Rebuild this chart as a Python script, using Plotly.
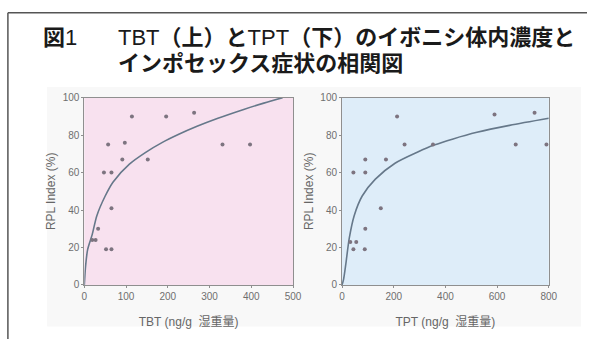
import plotly.graph_objects as go

# TBT panel: body concentration (ng/g wet weight) vs RPL index (%)
tbt_conc = [19, 27, 33, 47, 65, 57, 97, 65, 52, 65, 91, 114, 152, 196, 263, 331, 397]
tbt_rpl = [24, 24, 30, 60, 60, 75, 76, 41, 19, 19, 67, 90, 67, 90, 92, 75, 75]
# fitted curve, read along its path
tbt_fit_x = [0, 3, 8, 19, 30, 50, 69, 108, 147, 186, 225, 270, 320, 380, 430, 475]
tbt_fit_y = [0, 10, 19, 27, 37, 47.5, 55, 64.5, 70.8, 76, 80.3, 84.7, 89, 93.6, 97.1, 100]

# TPT panel
tpt_conc = [44, 32, 55, 44, 88, 90, 90, 90, 150, 170, 213, 242, 352, 590, 672, 745, 791]
tpt_rpl = [19, 23, 23, 60, 19, 30, 67, 60, 41, 67, 90, 75, 75, 91, 75, 92, 75]
tpt_fit_x = [0, 6, 15, 28, 47, 78, 129, 205, 293, 356, 430, 522, 648, 800]
tpt_fit_y = [0, 3, 11.5, 25, 37, 47.5, 56.5, 65, 71, 74.7, 78, 81.5, 85.2, 89]

tbt_ticks = [0, 100, 200, 300, 400, 500]
tpt_ticks = [0, 200, 400, 600, 800]
rpl_ticks = [0, 20, 40, 60, 80, 100]

W, H = 596, 345
FONT = "Liberation Sans, Arial, Noto Sans CJK JP, sans-serif"
CJK = "Liberation Sans, Noto Sans CJK JP, sans-serif"

def px_x(v):
    return v / W

def px_y(v):
    return 1 - v / H

fig = go.Figure()

marker = dict(symbol="circle", size=4, color="#7d7480")
curve = dict(color="#66788a", width=1.6, shape="spline", smoothing=0.8)

fig.add_trace(go.Scatter(x=tbt_fit_x, y=tbt_fit_y, mode="lines", line=curve,
                         xaxis="x", yaxis="y", hoverinfo="skip"))
fig.add_trace(go.Scatter(x=tbt_conc, y=tbt_rpl, mode="markers", marker=marker,
                         xaxis="x", yaxis="y"))
fig.add_trace(go.Scatter(x=tpt_fit_x, y=tpt_fit_y, mode="lines", line=curve,
                         xaxis="x2", yaxis="y2", hoverinfo="skip"))
fig.add_trace(go.Scatter(x=tpt_conc, y=tpt_rpl, mode="markers", marker=marker,
                         xaxis="x2", yaxis="y2"))

ydom = [px_y(289), px_y(95)]
axis_common = dict(showgrid=False, zeroline=False, showline=True, mirror=True,
                   linecolor="#8f8f8f", linewidth=1, ticks="outside", ticklen=2,
                   tickcolor="#8f8f8f",
                   tickfont=dict(family=FONT, size=10, color="#6f6f6f"))
title_font = dict(family=CJK, size=12, color="#666666")

fig.update_layout(
    width=W, height=H,
    margin=dict(l=0, r=0, t=0, b=0),
    paper_bgcolor="white",
    showlegend=False,
    xaxis=dict(domain=[px_x(83), px_x(296)], range=[0, 500], tickvals=tbt_ticks,
               anchor="y", title=dict(text="TBT (ng/g  湿重量)", font=title_font, standoff=16),
               **axis_common),
    yaxis=dict(domain=ydom, range=[0, 100], tickvals=rpl_ticks, anchor="x",
               title=dict(text="RPL Index (%)", font=title_font, standoff=4),
               **axis_common),
    xaxis2=dict(domain=[px_x(346), px_x(557)], range=[0, 800], tickvals=tpt_ticks,
                anchor="y2", title=dict(text="TPT (ng/g  湿重量)", font=title_font, standoff=16),
                **axis_common),
    yaxis2=dict(domain=ydom, range=[0, 100], tickvals=rpl_ticks, anchor="x2",
                title=dict(text="RPL Index (%)", font=title_font, standoff=4),
                **axis_common),
    plot_bgcolor="rgba(0,0,0,0)",
)

shapes = [
    # faint backdrop behind both panels
    dict(type="rect", xref="paper", yref="paper", x0=px_x(45), x1=px_x(590),
         y0=px_y(332), y1=px_y(84), fillcolor="#f8f8f8", line=dict(width=0), layer="below"),
    # panel backgrounds
    dict(type="rect", xref="x domain", yref="y domain", x0=0, x1=1, y0=0, y1=1,
         fillcolor="#f8e1ef", line=dict(width=0), layer="below"),
    dict(type="rect", xref="x2 domain", yref="y2 domain", x0=0, x1=1, y0=0, y1=1,
         fillcolor="#deedf9", line=dict(width=0), layer="below"),
    # figure frame (top and left rules)
    dict(type="line", xref="paper", yref="paper", x0=px_x(5), x1=1.0,
         y0=px_y(7), y1=px_y(7), line=dict(color="#555555", width=1.5)),
    dict(type="line", xref="paper", yref="paper", x0=px_x(5), x1=px_x(5),
         y0=px_y(7), y1=0, line=dict(color="#555555", width=1.5)),
]
fig.update_layout(shapes=shapes)

title_style = dict(family=CJK, size=22, color="#1a1a1a")
fig.add_annotation(xref="paper", yref="paper", x=px_x(39), y=px_y(33),
                   xanchor="left", yanchor="middle", showarrow=False,
                   text="<b>図</b>1", font=title_style)
fig.add_annotation(xref="paper", yref="paper", x=px_x(115), y=px_y(33),
                   xanchor="left", yanchor="middle", showarrow=False,
                   text="TBT<b>（上）と</b>TPT<b>（下）のイボニシ体内濃度と</b>",
                   font=title_style)
fig.add_annotation(xref="paper", yref="paper", x=px_x(115), y=px_y(60),
                   xanchor="left", yanchor="middle", showarrow=False,
                   text="<b>インポセックス症状の相関図</b>",
                   font=title_style)

fig.write_html("out.html")
